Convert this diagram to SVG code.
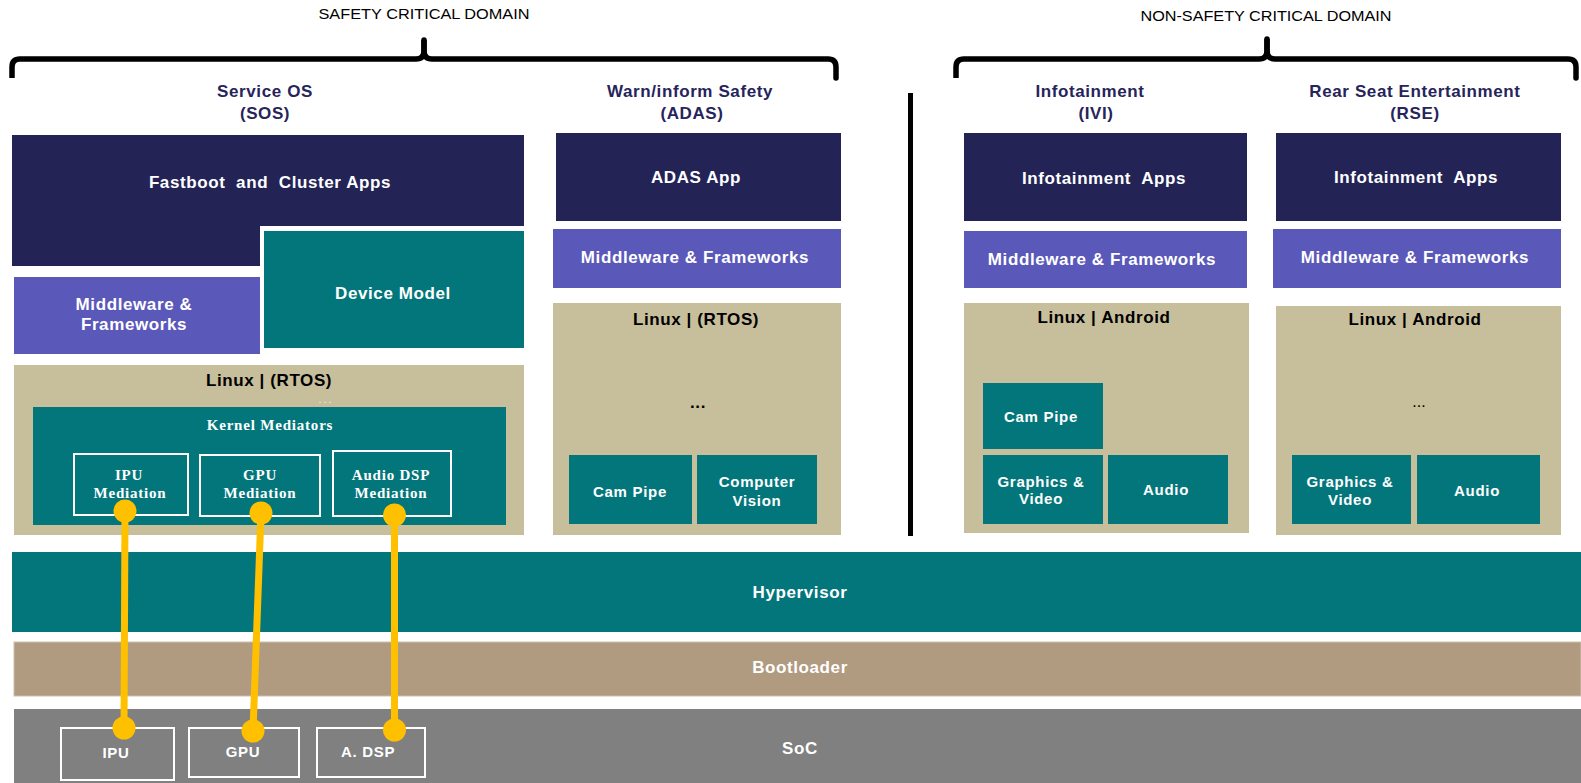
<svg xmlns="http://www.w3.org/2000/svg" width="1581" height="783" viewBox="0 0 1581 783">
<style>
.navy{fill:#232356}
.purple{fill:#5a58b9}
.teal{fill:#03767b}
.tan{fill:#c7be9b}
.boot{fill:#b09a80}
.soc{fill:#808080}
.t{font-family:"Liberation Sans",Arial,sans-serif;font-weight:bold;font-size:17px;text-anchor:middle;letter-spacing:0.6px}
.sm{font-size:15px;letter-spacing:0.7px}
.pre{white-space:pre}
.w{fill:#ffffff}
.k{fill:#000000}
.h{fill:#26245a}
.dom{font-family:"Liberation Sans",Arial,sans-serif;font-size:14px;text-anchor:middle;fill:#000000}
.s{font-family:"Liberation Serif","Times New Roman",serif;font-weight:bold;font-size:15px;text-anchor:middle;fill:#ffffff;letter-spacing:0.8px}
.wb{fill:none;stroke:#ffffff;stroke-width:2}
.brace{fill:none;stroke:#000000;stroke-width:5.5;stroke-linejoin:round}
.conn{stroke:#ffc000;stroke-width:7;fill:none}
.dot{fill:#ffc000}
</style>
<rect width="1581" height="783" fill="#ffffff"/>

<g id="safety-domain">
  <text class="dom" x="424" y="19" textLength="211" lengthAdjust="spacingAndGlyphs">SAFETY CRITICAL DOMAIN</text>
  <path class="brace" d="M12,78 V67 Q12,59 20,59 H416 Q424,59 424,51 V40"/>
  <path class="brace" d="M836,78 V67 Q836,59 828,59 H432 Q424,59 424,51 V40" stroke-linecap="round"/>
</g>
<g id="nonsafety-domain">
  <text class="dom" x="1266" y="21" textLength="251" lengthAdjust="spacingAndGlyphs">NON-SAFETY CRITICAL DOMAIN</text>
  <path class="brace" d="M956,78 V67 Q956,59 964,59 H1259 Q1267,59 1267,51 V39"/>
  <path class="brace" d="M1576,78 V67 Q1576,59 1568,59 H1275 Q1267,59 1267,51 V39" stroke-linecap="round"/>
</g>
<g id="divider">
  <rect x="908" y="93" width="5" height="443" fill="#000000"/>
</g>

<g id="sos">
  <text class="t h" x="265" y="97">Service OS</text>
  <text class="t h" x="265" y="119">(SOS)</text>
  <path class="navy" d="M12,135 H524 V226 H260 V266 H12 Z"/>
  <text class="t w pre" x="270" y="188" xml:space="preserve">Fastboot  and  Cluster Apps</text>
</g>
<g id="device-model">
  <rect class="teal" x="264" y="231" width="260" height="117"/>
  <text class="t w" x="393" y="299">Device Model</text>
</g>
<g id="sos-middleware">
  <rect class="purple" x="14" y="277" width="246" height="77"/>
  <text class="t w" x="134" y="310">Middleware &amp;</text>
  <text class="t w" x="134" y="330">Frameworks</text>
</g>
<g id="sos-linux">
  <rect class="tan" x="14" y="365" width="510" height="170"/>
  <text class="t k" x="269" y="386">Linux | (RTOS)</text>
  <text x="326" y="403" font-family="Liberation Sans, Arial, sans-serif" font-size="11" letter-spacing="2" fill="#f2f2f2" text-anchor="middle">...</text>
</g>
<g id="kernel-mediators">
  <rect class="teal" x="33" y="407" width="473" height="118"/>
  <text class="s" x="270" y="430">Kernel Mediators</text>
</g>
<g id="ipu-mediation">
  <rect class="wb" x="74" y="454" width="114" height="61"/>
  <text class="s" x="129" y="480">IPU</text>
  <text class="s" x="130" y="498">Mediation</text>
</g>
<g id="gpu-mediation">
  <rect class="wb" x="200" y="455" width="120" height="61"/>
  <text class="s" x="260" y="480">GPU</text>
  <text class="s" x="260" y="498">Mediation</text>
</g>
<g id="audio-dsp-mediation">
  <rect class="wb" x="333" y="451" width="118" height="65"/>
  <text class="s" x="391" y="480">Audio DSP</text>
  <text class="s" x="391" y="498">Mediation</text>
</g>

<g id="adas">
  <text class="t h" x="690" y="97">Warn/inform Safety</text>
  <text class="t h" x="692" y="119">(ADAS)</text>
  <rect class="navy" x="556" y="133" width="285" height="88"/>
  <text class="t w" x="696" y="183">ADAS App</text>
</g>
<g id="adas-middleware">
  <rect class="purple" x="553" y="229" width="288" height="59"/>
  <text class="t w" x="695" y="263">Middleware &amp; Frameworks</text>
</g>
<g id="adas-linux">
  <rect class="tan" x="553" y="303" width="288" height="232"/>
  <text class="t k" x="696" y="325">Linux | (RTOS)</text>
  <text class="t k" x="698" y="408">...</text>
</g>
<g id="adas-campipe">
  <rect class="teal" x="569" y="455" width="123" height="69"/>
  <text class="t w sm" x="630" y="497">Cam Pipe</text>
</g>
<g id="adas-cv">
  <rect class="teal" x="697" y="455" width="120" height="69"/>
  <text class="t w sm" x="757" y="487">Computer</text>
  <text class="t w sm" x="757" y="506">Vision</text>
</g>

<g id="ivi">
  <text class="t h" x="1090" y="97">Infotainment</text>
  <text class="t h" x="1096" y="119">(IVI)</text>
  <rect class="navy" x="964" y="133" width="283" height="88"/>
  <text class="t w pre" x="1104" y="184" xml:space="preserve">Infotainment  Apps</text>
</g>
<g id="ivi-middleware">
  <rect class="purple" x="964" y="231" width="283" height="57"/>
  <text class="t w" x="1102" y="265">Middleware &amp; Frameworks</text>
</g>
<g id="ivi-linux">
  <rect class="tan" x="964" y="303" width="285" height="230"/>
  <text class="t k" x="1104" y="323">Linux | Android</text>
</g>
<g id="ivi-campipe">
  <rect class="teal" x="983" y="383" width="120" height="66"/>
  <text class="t w sm" x="1041" y="422">Cam Pipe</text>
</g>
<g id="ivi-graphics">
  <rect class="teal" x="983" y="455" width="120" height="69"/>
  <text class="t w sm" x="1041" y="487">Graphics &amp;</text>
  <text class="t w sm" x="1041" y="504">Video</text>
</g>
<g id="ivi-audio">
  <rect class="teal" x="1108" y="455" width="120" height="69"/>
  <text class="t w sm" x="1166" y="495">Audio</text>
</g>

<g id="rse">
  <text class="t h" x="1415" y="97">Rear Seat Entertainment</text>
  <text class="t h" x="1415" y="119">(RSE)</text>
  <rect class="navy" x="1276" y="133" width="285" height="88"/>
  <text class="t w pre" x="1416" y="183" xml:space="preserve">Infotainment  Apps</text>
</g>
<g id="rse-middleware">
  <rect class="purple" x="1273" y="229" width="288" height="59"/>
  <text class="t w" x="1415" y="263">Middleware &amp; Frameworks</text>
</g>
<g id="rse-linux">
  <rect class="tan" x="1276" y="306" width="285" height="229"/>
  <text class="t k" x="1415" y="325">Linux | Android</text>
  <text x="1419" y="407" font-family="Liberation Sans, Arial, sans-serif" font-size="16" fill="#000000" text-anchor="middle">...</text>
</g>
<g id="rse-graphics">
  <rect class="teal" x="1292" y="455" width="119" height="69"/>
  <text class="t w sm" x="1350" y="487">Graphics &amp;</text>
  <text class="t w sm" x="1350" y="505">Video</text>
</g>
<g id="rse-audio">
  <rect class="teal" x="1417" y="455" width="123" height="69"/>
  <text class="t w sm" x="1477" y="496">Audio</text>
</g>

<g id="hypervisor">
  <rect class="teal" x="12" y="552" width="1569" height="80"/>
  <text class="t w" x="800" y="598">Hypervisor</text>
</g>
<g id="bootloader">
  <rect class="boot" x="14" y="642" width="1567" height="54" stroke="#cdbfae" stroke-width="1"/>
  <text class="t w" x="800" y="673">Bootloader</text>
</g>
<g id="soc">
  <rect class="soc" x="14" y="709" width="1567" height="74"/>
  <text class="t w" x="800" y="754">SoC</text>
</g>
<g id="soc-ipu">
  <rect class="wb" x="61" y="728" width="113" height="52"/>
  <text class="t w sm" x="116" y="758">IPU</text>
</g>
<g id="soc-gpu">
  <rect class="wb" x="189" y="728" width="110" height="49"/>
  <text class="t w sm" x="243" y="757">GPU</text>
</g>
<g id="soc-adsp">
  <rect class="wb" x="317" y="728" width="108" height="49"/>
  <text class="t w sm" x="368" y="757">A. DSP</text>
</g>

<g id="connectors">
  <line class="conn" x1="125" y1="511" x2="124" y2="728"/>
  <line class="conn" x1="261" y1="513" x2="253" y2="731"/>
  <line class="conn" x1="394.5" y1="515" x2="394.5" y2="730"/>
  <circle class="dot" cx="125" cy="511" r="11.5"/>
  <circle class="dot" cx="261" cy="513" r="11.5"/>
  <circle class="dot" cx="394.5" cy="515" r="11.5"/>
  <circle class="dot" cx="124" cy="728" r="11.5"/>
  <circle class="dot" cx="253" cy="731" r="11.5"/>
  <circle class="dot" cx="394.5" cy="730" r="11.5"/>
</g>
</svg>
